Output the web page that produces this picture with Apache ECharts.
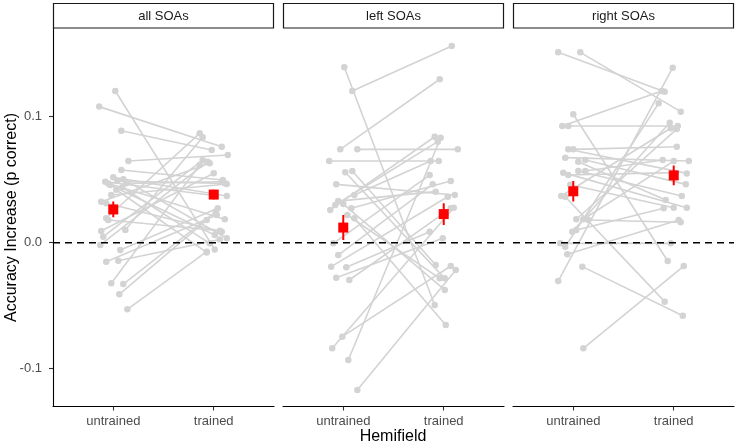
<!DOCTYPE html>
<html>
<head>
<meta charset="utf-8">
<script src="https://cdn.jsdelivr.net/npm/echarts@6/dist/echarts.min.js"></script>
<style>
html,body{margin:0;padding:0;background:#fff;}
#chart{width:737px;height:446px;}
</style>
</head>
<body>
<div id="chart"></div>
<script>
// ---- Data ----
var panelNames = ["all SOAs", "left SOAs", "right SOAs"];
var conditionLabels = ["untrained", "trained"];
var yTickValues = [-0.1, 0.0, 0.1];

// all SOAs: per subject untrained / trained accuracy increase, plus horizontal jitter
var allUntrained = [0.1204,0.108,0.0889,0.0648,0.0577,0.0484,0.0519,0.0458,0.0503,0.0471,0.047,0.0379,0.0325,0.0313,0.0194,0.018,0.0101,0.0093,0.0048,-0.0018,-0.0058,-0.0151,-0.0143,-0.0322,-0.0328,-0.041,-0.0529,0.049,0.044,0.042];
var allTrained   = [-0.0053,0.0762,0.0736,0.0696,0.0498,0.0373,0.037,0.0061,0.0035,0.0484,0.0186,0.0466,0.063,0.0087,0.0868,0.0095,0.0837,0.0551,0.0656,0.0643,0.0273,0.022,0.0025,0.0617,0.0246,0.018,-0.0071,0.0471,-0.0005,-0.0077];
var allJitterU   = [0.02,-0.14,0.08,0.15,0.08,-0.08,0.0,-0.03,0.10,0.13,-0.05,-0.02,-0.12,-0.07,-0.07,-0.05,0.12,-0.12,-0.10,-0.13,0.07,-0.07,0.05,-0.02,0.10,0.06,0.14,0.04,0.09,0.03];
var allJitterT   = [0.01,0.08,-0.02,0.14,0.09,0.02,0.13,0.01,0.13,0.08,0.11,0.13,-0.04,0.08,-0.14,0.06,-0.11,0.0,-0.11,-0.06,0.04,0.03,0.06,-0.14,0.02,-0.07,-0.07,0.11,-0.04,-0.07];

// left SOAs
var leftUntrained = [0.1392,0.1204,0.0741,0.0741,0.0648,0.0559,0.0569,0.0463,0.0379,0.026,0.0299,0.0307,0.0273,0.0194,-0.0005,-0.0098,-0.019,-0.0195,-0.0278,-0.0296,-0.0746,-0.0838,-0.0931,-0.1169,0.033,0.022];
var leftTrained   = [-0.0494,0.1561,0.1297,0.0741,0.0648,-0.0283,-0.0177,0.0379,0.0648,0.0841,0.0802,-0.0375,0.049,-0.0653,0.0537,0.0463,0.0365,0.0087,0.0035,0.0273,-0.0185,0.0278,0.0833,-0.0217,0.0405,-0.0283];
var leftJitterU   = [0.01,0.09,-0.03,0.14,-0.14,0.02,0.09,-0.07,0.11,-0.13,-0.08,0.0,0.08,0.11,-0.10,-0.05,-0.12,0.03,-0.07,0.06,-0.01,-0.11,0.05,0.14,-0.05,0.04];
var leftJitterT   = [-0.09,0.08,-0.04,0.14,-0.05,0.01,-0.08,0.11,-0.13,-0.09,-0.06,0.01,0.07,0.02,-0.14,-0.11,0.04,-0.14,-0.01,0.07,0.07,0.10,-0.03,0.12,-0.08,-0.04];

// right SOAs
var rightUntrained = [0.1511,0.1511,0.1019,0.0926,0.0926,0.0741,0.0741,0.0675,0.0643,0.0656,0.0556,0.0537,0.0569,0.0569,0.0371,0.0365,0.0186,0.0186,0.018,0.0087,0.0101,-0.0005,-0.0032,-0.0092,-0.019,-0.0304,-0.0838,0.046];
var rightTrained   = [0.1198,0.104,-0.0145,0.1204,0.0926,0.055,0.0762,0.0648,0.0339,0.0463,0.0278,0.0556,0.037,0.0656,0.0908,-0.0468,0.0902,0.0648,0.0162,0.0952,0.0273,-0.0005,0.1106,0.018,-0.058,0.1389,-0.0185,0.0278];
var rightJitterU   = [-0.15,0.07,0.0,-0.11,-0.05,-0.05,0.0,-0.08,0.05,0.12,-0.10,-0.05,0.05,0.12,-0.12,-0.08,0.03,0.10,0.15,-0.01,0.03,-0.13,-0.08,-0.06,0.09,-0.15,0.10,-0.03];
var rightJitterT   = [-0.09,0.07,-0.06,-0.12,0.04,0.13,0.03,0.15,-0.08,0.12,0.13,0.0,0.08,-0.11,-0.03,-0.09,0.03,0.0,0.07,-0.04,-0.10,-0.03,-0.15,0.05,0.09,-0.01,0.10,0.0];

// group means and standard errors [untrained, trained] per panel
var meanUntrained = [0.0264, 0.0120, 0.0408];
var seUntrained   = [0.0062, 0.0099, 0.0082];
var meanTrained   = [0.0382, 0.0227, 0.0534];
var seTrained     = [0.0038, 0.0086, 0.0078];

var panels = [
  {u: allUntrained, t: allTrained, ju: allJitterU, jt: allJitterT},
  {u: leftUntrained, t: leftTrained, ju: leftJitterU, jt: leftJitterT},
  {u: rightUntrained, t: rightTrained, ju: rightJitterU, jt: rightJitterT}
];

// ---- Layout ----
var FONT = '"Liberation Sans", Arial, Helvetica, sans-serif';
var gridLeft = [53, 283, 513];
var gridW = 221, gridTop = 28.5, gridH = 378;
var GRAY = '#d3d3d3', RED = '#ff0000';

var grids = [], xAxes = [], yAxes = [], series = [], graphics = [];
for (var p = 0; p < 3; p++) {
  grids.push({left: gridLeft[p], top: gridTop, width: gridW, height: gridH, containLabel: false});
  xAxes.push({
    type: 'value', gridIndex: p, min: 0.4, max: 2.6,
    axisLine: {show: true, onZero: false, lineStyle: {color: '#000', width: 1.1}},
    axisTick: {show: true, length: 4, customValues: [1, 2], lineStyle: {color: '#333', width: 1.1}},
    axisLabel: {show: true, customValues: [1, 2], margin: 8, color: '#4d4d4d', fontSize: 13, fontFamily: FONT,
      formatter: function (v) { return v === 1 ? conditionLabels[0] : (v === 2 ? conditionLabels[1] : ''); }},
    splitLine: {show: false}
  });
  yAxes.push({
    type: 'value', gridIndex: p, min: -0.13, max: 0.17,
    axisLine: {show: p === 0, onZero: false, lineStyle: {color: '#000', width: 1.1}},
    axisTick: {show: p === 0, length: 4, customValues: yTickValues, lineStyle: {color: '#333', width: 1.1}},
    axisLabel: {show: p === 0, customValues: yTickValues, margin: 11, color: '#4d4d4d', fontSize: 13, fontFamily: FONT,
      formatter: function (v) { return v.toFixed(1); }},
    splitLine: {show: false}
  });

  var d = panels[p];
  var pts = [];
  for (var i = 0; i < d.u.length; i++) {
    var a = [1 + d.ju[i], d.u[i]], b = [2 + d.jt[i], d.t[i]];
    series.push({
      type: 'line', xAxisIndex: p, yAxisIndex: p, data: [a, b],
      symbol: 'none', silent: true, animation: false, z: 1,
      lineStyle: {color: GRAY, width: 1.6}
    });
    pts.push(a, b);
  }
  series.push({
    type: 'scatter', xAxisIndex: p, yAxisIndex: p, data: pts,
    symbol: 'circle', symbolSize: 6.5, silent: true, animation: false, z: 2,
    itemStyle: {color: GRAY, opacity: 1}
  });
  // dashed zero line
  series.push({
    type: 'line', xAxisIndex: p, yAxisIndex: p, data: [[0.4, 0], [2.6, 0]],
    symbol: 'none', silent: true, animation: false, z: 3,
    lineStyle: {color: '#000', width: 1.6, type: [7, 5]}
  });
  // error bars
  series.push({
    type: 'line', xAxisIndex: p, yAxisIndex: p,
    data: [[1, meanUntrained[p] - seUntrained[p]], [1, meanUntrained[p] + seUntrained[p]]],
    symbol: 'none', silent: true, animation: false, z: 4,
    lineStyle: {color: RED, width: 2}
  });
  series.push({
    type: 'line', xAxisIndex: p, yAxisIndex: p,
    data: [[2, meanTrained[p] - seTrained[p]], [2, meanTrained[p] + seTrained[p]]],
    symbol: 'none', silent: true, animation: false, z: 4,
    lineStyle: {color: RED, width: 2}
  });
  series.push({
    type: 'scatter', xAxisIndex: p, yAxisIndex: p,
    data: [[1, meanUntrained[p]], [2, meanTrained[p]]],
    symbol: 'rect', symbolSize: [10, 10], silent: true, animation: false, z: 5,
    itemStyle: {color: RED, opacity: 1}
  });

  // facet strip
  graphics.push({
    type: 'rect', shape: {x: gridLeft[p] + 0.5, y: 3.5, width: gridW - 1, height: 24.5},
    style: {fill: '#fff', stroke: '#1a1a1a', lineWidth: 1.2}, silent: true
  });
  graphics.push({
    type: 'text', x: gridLeft[p] + gridW / 2, y: 16,
    style: {text: panelNames[p], textAlign: 'center', textVerticalAlign: 'middle',
      fill: '#1a1a1a', font: '13px ' + FONT}, silent: true
  });
}

graphics.push({
  type: 'text', x: 12, y: 217.5, rotation: Math.PI / 2,
  style: {text: 'Accuracy Increase (p correct)', textAlign: 'center', textVerticalAlign: 'middle',
    fill: '#000', font: '16px ' + FONT}, silent: true
});
graphics.push({
  type: 'text', x: 393, y: 437,
  style: {text: 'Hemifield', textAlign: 'center', textVerticalAlign: 'middle',
    fill: '#000', font: '16px ' + FONT}, silent: true
});

var chart = echarts.init(document.getElementById('chart'), null, {renderer: 'canvas'});
chart.setOption({
  backgroundColor: '#fff',
  animation: false,
  grid: grids,
  xAxis: xAxes,
  yAxis: yAxes,
  series: series,
  graphic: graphics
});
</script>
</body>
</html>
